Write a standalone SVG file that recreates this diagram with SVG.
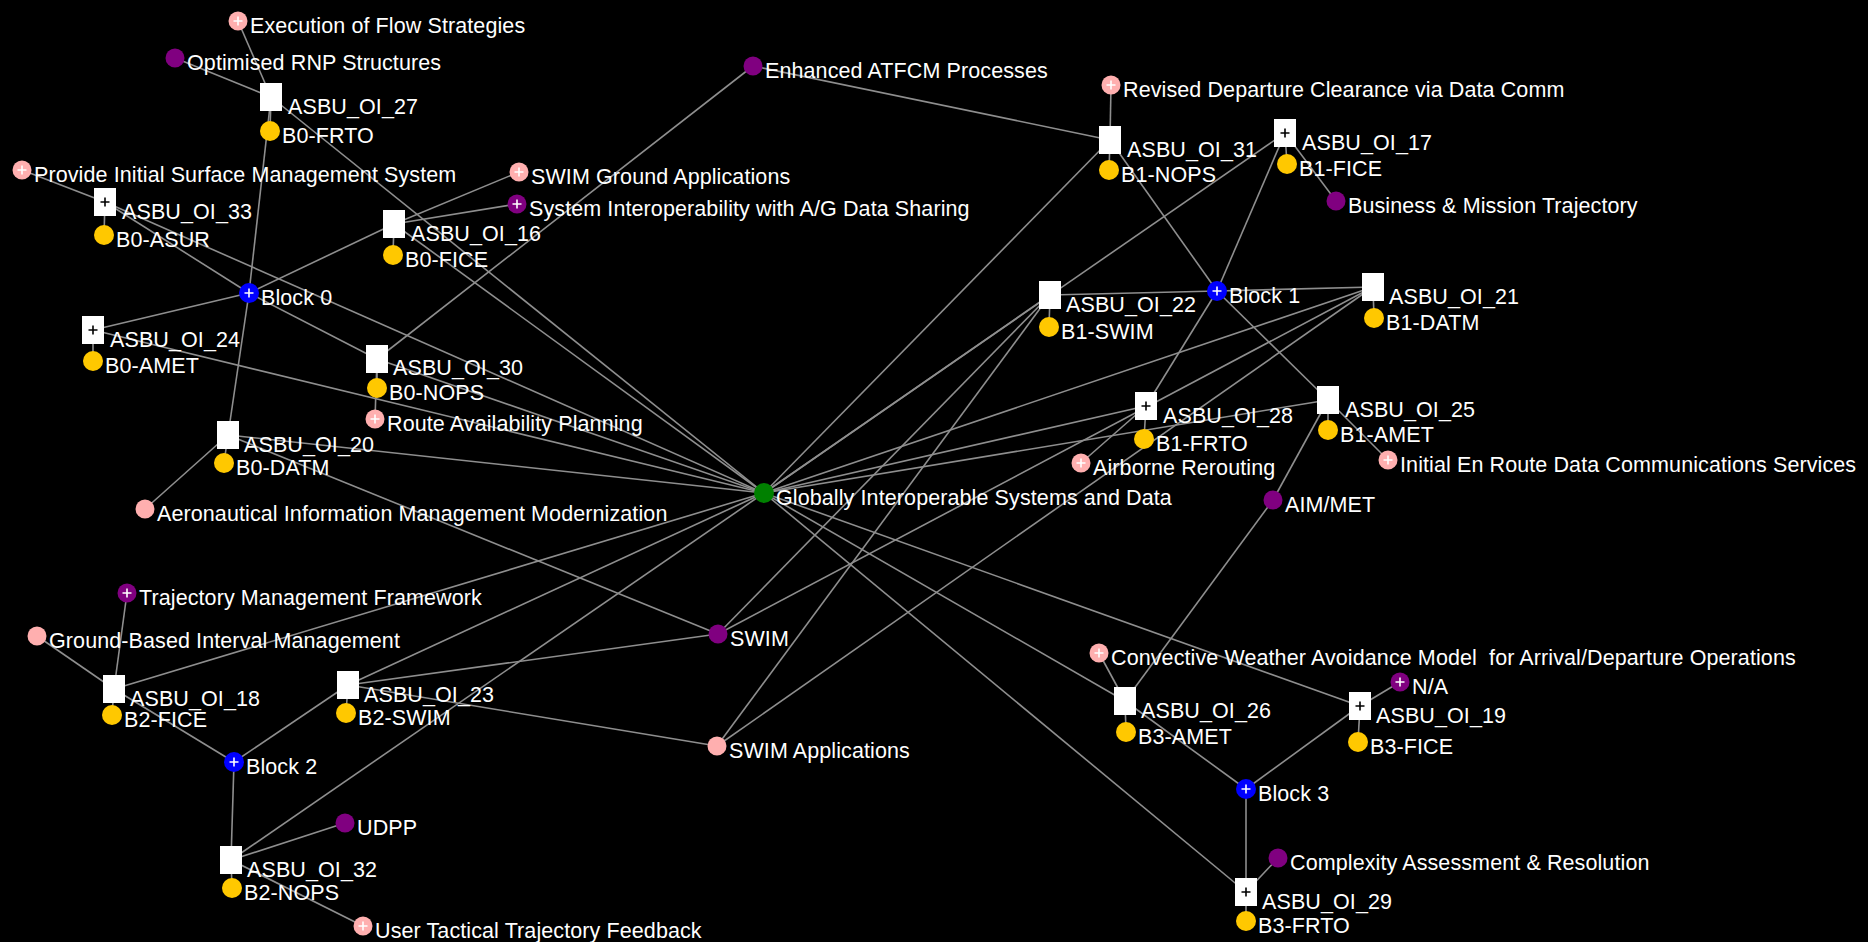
<svg xmlns="http://www.w3.org/2000/svg" width="1868" height="942" viewBox="0 0 1868 942">
<style>
.e line{stroke:#8e8e8e;stroke-width:1.6}
.l{font-family:"Liberation Sans",Arial,sans-serif;font-size:21.5px;letter-spacing:0.1px;fill:#ffffff}
.bx{fill:#ffffff}
.pk{fill:#ffafaf}
.pu{fill:#800080}
.go{fill:#ffc800}
.bl{fill:#0000ff}
.gr{fill:#008000}
</style>
<defs>
<path id="pw" d="M-4.5,0H4.5M0,-4.5V4.5" stroke="#ffffff" stroke-width="1.6" fill="none"/>
<path id="pb" d="M-4.5,0H4.5M0,-4.5V4.5" stroke="#000000" stroke-width="1.6" fill="none"/>
</defs>
<rect x="0" y="0" width="1868" height="942" fill="#000000"/>
<g id="connectors" class="e">
<line x1="238" y1="21" x2="271" y2="97"/>
<line x1="175" y1="58" x2="271" y2="97"/>
<line x1="271" y1="97" x2="270" y2="131"/>
<line x1="271" y1="97" x2="249" y2="293"/>
<line x1="271" y1="97" x2="764" y2="493"/>
<line x1="22" y1="170" x2="105" y2="202"/>
<line x1="105" y1="202" x2="104" y2="235"/>
<line x1="105" y1="202" x2="249" y2="293"/>
<line x1="105" y1="202" x2="764" y2="493"/>
<line x1="394" y1="224" x2="519" y2="172"/>
<line x1="394" y1="224" x2="517" y2="204"/>
<line x1="394" y1="224" x2="393" y2="255"/>
<line x1="394" y1="224" x2="249" y2="293"/>
<line x1="394" y1="224" x2="764" y2="493"/>
<line x1="249" y1="293" x2="93" y2="330"/>
<line x1="93" y1="330" x2="93" y2="361"/>
<line x1="93" y1="330" x2="764" y2="493"/>
<line x1="249" y1="293" x2="377" y2="359"/>
<line x1="377" y1="359" x2="377" y2="388"/>
<line x1="377" y1="359" x2="375" y2="419"/>
<line x1="377" y1="359" x2="753" y2="66"/>
<line x1="377" y1="359" x2="764" y2="493"/>
<line x1="249" y1="293" x2="228" y2="435"/>
<line x1="228" y1="435" x2="224" y2="463"/>
<line x1="228" y1="435" x2="145" y2="509"/>
<line x1="228" y1="435" x2="764" y2="493"/>
<line x1="228" y1="435" x2="718" y2="634"/>
<line x1="127" y1="593" x2="114" y2="689"/>
<line x1="37" y1="636" x2="114" y2="689"/>
<line x1="114" y1="689" x2="112" y2="715"/>
<line x1="114" y1="689" x2="234" y2="762"/>
<line x1="114" y1="689" x2="764" y2="493"/>
<line x1="234" y1="762" x2="348" y2="685"/>
<line x1="348" y1="685" x2="346" y2="713"/>
<line x1="348" y1="685" x2="764" y2="493"/>
<line x1="348" y1="685" x2="718" y2="634"/>
<line x1="348" y1="685" x2="717" y2="746"/>
<line x1="234" y1="762" x2="231" y2="860"/>
<line x1="231" y1="860" x2="232" y2="888"/>
<line x1="231" y1="860" x2="345" y2="823"/>
<line x1="231" y1="860" x2="363" y2="926"/>
<line x1="231" y1="860" x2="764" y2="493"/>
<line x1="753" y1="66" x2="1110" y2="140"/>
<line x1="1111" y1="85" x2="1110" y2="140"/>
<line x1="1110" y1="140" x2="1109" y2="170"/>
<line x1="1110" y1="140" x2="1217" y2="291"/>
<line x1="1110" y1="140" x2="764" y2="493"/>
<line x1="1285" y1="133" x2="1287" y2="164"/>
<line x1="1285" y1="133" x2="1336" y2="201"/>
<line x1="1285" y1="133" x2="1217" y2="291"/>
<line x1="1285" y1="133" x2="764" y2="493"/>
<line x1="1050" y1="295" x2="1049" y2="327"/>
<line x1="1050" y1="295" x2="1217" y2="291"/>
<line x1="1050" y1="295" x2="764" y2="493"/>
<line x1="1050" y1="295" x2="718" y2="634"/>
<line x1="1050" y1="295" x2="717" y2="746"/>
<line x1="1373" y1="287" x2="1217" y2="291"/>
<line x1="1373" y1="287" x2="1374" y2="318"/>
<line x1="1373" y1="287" x2="764" y2="493"/>
<line x1="1373" y1="287" x2="718" y2="634"/>
<line x1="1373" y1="287" x2="717" y2="746"/>
<line x1="1146" y1="406" x2="1217" y2="291"/>
<line x1="1146" y1="406" x2="1144" y2="439"/>
<line x1="1146" y1="406" x2="1081" y2="463"/>
<line x1="1146" y1="406" x2="764" y2="493"/>
<line x1="1328" y1="400" x2="1217" y2="291"/>
<line x1="1328" y1="400" x2="1328" y2="430"/>
<line x1="1328" y1="400" x2="1388" y2="460"/>
<line x1="1328" y1="400" x2="1273" y2="500"/>
<line x1="1328" y1="400" x2="764" y2="493"/>
<line x1="1273" y1="500" x2="1125" y2="701"/>
<line x1="1099" y1="653" x2="1125" y2="701"/>
<line x1="1125" y1="701" x2="1126" y2="732"/>
<line x1="1125" y1="701" x2="1246" y2="789"/>
<line x1="1125" y1="701" x2="764" y2="493"/>
<line x1="1360" y1="706" x2="1400" y2="682"/>
<line x1="1360" y1="706" x2="1358" y2="742"/>
<line x1="1360" y1="706" x2="1246" y2="789"/>
<line x1="1360" y1="706" x2="764" y2="493"/>
<line x1="1246" y1="789" x2="1246" y2="892"/>
<line x1="1246" y1="892" x2="1278" y2="858"/>
<line x1="1246" y1="892" x2="1246" y2="921"/>
<line x1="1246" y1="892" x2="764" y2="493"/>
</g>

<g id="n_exec"><circle class="pk" cx="238" cy="21" r="9.5"/><use href="#pw" x="238" y="21"/><text class="l" x="250" y="33">Execution of Flow Strategies</text></g>
<g id="n_rnp"><circle class="pu" cx="175" cy="58" r="9.5"/><text class="l" x="187" y="70">Optimised RNP Structures</text></g>
<g id="n_oi27"><rect class="bx" x="260" y="83" width="22" height="28"/><text class="l" x="288" y="114">ASBU_OI_27</text></g>
<g id="n_b0frto"><circle class="go" cx="270" cy="131" r="10"/><text class="l" x="282" y="143">B0-FRTO</text></g>
<g id="n_provide"><circle class="pk" cx="22" cy="170" r="9.5"/><use href="#pw" x="22" y="170"/><text class="l" x="34" y="182">Provide Initial Surface Management System</text></g>
<g id="n_oi33"><rect class="bx" x="94" y="188" width="22" height="28"/><use href="#pb" x="105" y="202"/><text class="l" x="122" y="219">ASBU_OI_33</text></g>
<g id="n_b0asur"><circle class="go" cx="104" cy="235" r="10"/><text class="l" x="116" y="247">B0-ASUR</text></g>
<g id="n_oi16"><rect class="bx" x="383" y="210" width="22" height="28"/><text class="l" x="411" y="241">ASBU_OI_16</text></g>
<g id="n_b0fice"><circle class="go" cx="393" cy="255" r="10"/><text class="l" x="405" y="267">B0-FICE</text></g>
<g id="n_swg"><circle class="pk" cx="519" cy="172" r="9.5"/><use href="#pw" x="519" y="172"/><text class="l" x="531" y="184">SWIM Ground Applications</text></g>
<g id="n_sysi"><circle class="pu" cx="517" cy="204" r="9.5"/><use href="#pw" x="517" y="204"/><text class="l" x="529" y="216">System Interoperability with A/G Data Sharing</text></g>
<g id="n_block0"><circle class="bl" cx="249" cy="293" r="10"/><use href="#pw" x="249" y="293"/><text class="l" x="261" y="305">Block 0</text></g>
<g id="n_oi24"><rect class="bx" x="82" y="316" width="22" height="28"/><use href="#pb" x="93" y="330"/><text class="l" x="110" y="347">ASBU_OI_24</text></g>
<g id="n_b0amet"><circle class="go" cx="93" cy="361" r="10"/><text class="l" x="105" y="373">B0-AMET</text></g>
<g id="n_oi30"><rect class="bx" x="366" y="345" width="22" height="28"/><text class="l" x="393" y="375">ASBU_OI_30</text></g>
<g id="n_b0nops"><circle class="go" cx="377" cy="388" r="10"/><text class="l" x="389" y="400">B0-NOPS</text></g>
<g id="n_rap"><circle class="pk" cx="375" cy="419" r="9.5"/><use href="#pw" x="375" y="419"/><text class="l" x="387" y="431">Route Availability Planning</text></g>
<g id="n_oi20"><rect class="bx" x="217" y="421" width="22" height="28"/><text class="l" x="244" y="452">ASBU_OI_20</text></g>
<g id="n_b0datm"><circle class="go" cx="224" cy="463" r="10"/><text class="l" x="236" y="475">B0-DATM</text></g>
<g id="n_aim"><circle class="pk" cx="145" cy="509" r="9.5"/><text class="l" x="157" y="521">Aeronautical Information Management Modernization</text></g>
<g id="n_atfcm"><circle class="pu" cx="753" cy="66" r="9.5"/><text class="l" x="765" y="78">Enhanced ATFCM Processes</text></g>
<g id="n_glob"><circle class="gr" cx="764" cy="493" r="10"/><text class="l" x="776" y="505">Globally Interoperable Systems and Data</text></g>
<g id="n_swim"><circle class="pu" cx="718" cy="634" r="9.5"/><text class="l" x="730" y="646">SWIM</text></g>
<g id="n_swa"><circle class="pk" cx="717" cy="746" r="9.5"/><text class="l" x="729" y="758">SWIM Applications</text></g>
<g id="n_tmf"><circle class="pu" cx="127" cy="593" r="9.5"/><use href="#pw" x="127" y="593"/><text class="l" x="139" y="605">Trajectory Management Framework</text></g>
<g id="n_gbim"><circle class="pk" cx="37" cy="636" r="9.5"/><text class="l" x="49" y="648">Ground-Based Interval Management</text></g>
<g id="n_oi18"><rect class="bx" x="103" y="675" width="22" height="28"/><text class="l" x="130" y="706">ASBU_OI_18</text></g>
<g id="n_b2fice"><circle class="go" cx="112" cy="715" r="10"/><text class="l" x="124" y="727">B2-FICE</text></g>
<g id="n_oi23"><rect class="bx" x="337" y="671" width="22" height="28"/><text class="l" x="364" y="702">ASBU_OI_23</text></g>
<g id="n_b2swim"><circle class="go" cx="346" cy="713" r="10"/><text class="l" x="358" y="725">B2-SWIM</text></g>
<g id="n_block2"><circle class="bl" cx="234" cy="762" r="10"/><use href="#pw" x="234" y="762"/><text class="l" x="246" y="774">Block 2</text></g>
<g id="n_udpp"><circle class="pu" cx="345" cy="823" r="9.5"/><text class="l" x="357" y="835">UDPP</text></g>
<g id="n_oi32"><rect class="bx" x="220" y="846" width="22" height="28"/><text class="l" x="247" y="877">ASBU_OI_32</text></g>
<g id="n_b2nops"><circle class="go" cx="232" cy="888" r="10"/><text class="l" x="244" y="900">B2-NOPS</text></g>
<g id="n_utt"><circle class="pk" cx="363" cy="926" r="9.5"/><use href="#pw" x="363" y="926"/><text class="l" x="375" y="938">User Tactical Trajectory Feedback</text></g>
<g id="n_rev"><circle class="pk" cx="1111" cy="85" r="9.5"/><use href="#pw" x="1111" y="85"/><text class="l" x="1123" y="97">Revised Departure Clearance via Data Comm</text></g>
<g id="n_oi31"><rect class="bx" x="1099" y="126" width="22" height="28"/><text class="l" x="1127" y="157">ASBU_OI_31</text></g>
<g id="n_b1nops"><circle class="go" cx="1109" cy="170" r="10"/><text class="l" x="1121" y="182">B1-NOPS</text></g>
<g id="n_oi17"><rect class="bx" x="1274" y="119" width="22" height="28"/><use href="#pb" x="1285" y="133"/><text class="l" x="1302" y="150">ASBU_OI_17</text></g>
<g id="n_b1fice"><circle class="go" cx="1287" cy="164" r="10"/><text class="l" x="1299" y="176">B1-FICE</text></g>
<g id="n_bus"><circle class="pu" cx="1336" cy="201" r="9.5"/><text class="l" x="1348" y="213">Business &amp; Mission Trajectory</text></g>
<g id="n_oi22"><rect class="bx" x="1039" y="281" width="22" height="28"/><text class="l" x="1066" y="312">ASBU_OI_22</text></g>
<g id="n_b1swim"><circle class="go" cx="1049" cy="327" r="10"/><text class="l" x="1061" y="339">B1-SWIM</text></g>
<g id="n_block1"><circle class="bl" cx="1217" cy="291" r="10"/><use href="#pw" x="1217" y="291"/><text class="l" x="1229" y="303">Block 1</text></g>
<g id="n_oi21"><rect class="bx" x="1362" y="273" width="22" height="28"/><text class="l" x="1389" y="304">ASBU_OI_21</text></g>
<g id="n_b1datm"><circle class="go" cx="1374" cy="318" r="10"/><text class="l" x="1386" y="330">B1-DATM</text></g>
<g id="n_oi28"><rect class="bx" x="1135" y="392" width="22" height="28"/><use href="#pb" x="1146" y="406"/><text class="l" x="1163" y="423">ASBU_OI_28</text></g>
<g id="n_b1frto"><circle class="go" cx="1144" cy="439" r="10"/><text class="l" x="1156" y="451">B1-FRTO</text></g>
<g id="n_airb"><circle class="pk" cx="1081" cy="463" r="9.5"/><use href="#pw" x="1081" y="463"/><text class="l" x="1093" y="475">Airborne Rerouting</text></g>
<g id="n_oi25"><rect class="bx" x="1317" y="386" width="22" height="28"/><text class="l" x="1345" y="417">ASBU_OI_25</text></g>
<g id="n_b1amet"><circle class="go" cx="1328" cy="430" r="10"/><text class="l" x="1340" y="442">B1-AMET</text></g>
<g id="n_init"><circle class="pk" cx="1388" cy="460" r="9.5"/><use href="#pw" x="1388" y="460"/><text class="l" x="1400" y="472">Initial En Route Data Communications Services</text></g>
<g id="n_aimmet"><circle class="pu" cx="1273" cy="500" r="9.5"/><text class="l" x="1285" y="512">AIM/MET</text></g>
<g id="n_conv"><circle class="pk" cx="1099" cy="653" r="9.5"/><use href="#pw" x="1099" y="653"/><text class="l" x="1111" y="665" xml:space="preserve">Convective Weather Avoidance Model  for Arrival/Departure Operations</text></g>
<g id="n_na"><circle class="pu" cx="1400" cy="682" r="9.5"/><use href="#pw" x="1400" y="682"/><text class="l" x="1412" y="694">N/A</text></g>
<g id="n_oi26"><rect class="bx" x="1114" y="687" width="22" height="28"/><text class="l" x="1141" y="718">ASBU_OI_26</text></g>
<g id="n_b3amet"><circle class="go" cx="1126" cy="732" r="10"/><text class="l" x="1138" y="744">B3-AMET</text></g>
<g id="n_oi19"><rect class="bx" x="1349" y="692" width="22" height="28"/><use href="#pb" x="1360" y="706"/><text class="l" x="1376" y="723">ASBU_OI_19</text></g>
<g id="n_b3fice"><circle class="go" cx="1358" cy="742" r="10"/><text class="l" x="1370" y="754">B3-FICE</text></g>
<g id="n_block3"><circle class="bl" cx="1246" cy="789" r="10"/><use href="#pw" x="1246" y="789"/><text class="l" x="1258" y="801">Block 3</text></g>
<g id="n_cplx"><circle class="pu" cx="1278" cy="858" r="9.5"/><text class="l" x="1290" y="870">Complexity Assessment &amp; Resolution</text></g>
<g id="n_oi29"><rect class="bx" x="1235" y="878" width="22" height="28"/><use href="#pb" x="1246" y="892"/><text class="l" x="1262" y="909">ASBU_OI_29</text></g>
<g id="n_b3frto"><circle class="go" cx="1246" cy="921" r="10"/><text class="l" x="1258" y="933">B3-FRTO</text></g>
</svg>
